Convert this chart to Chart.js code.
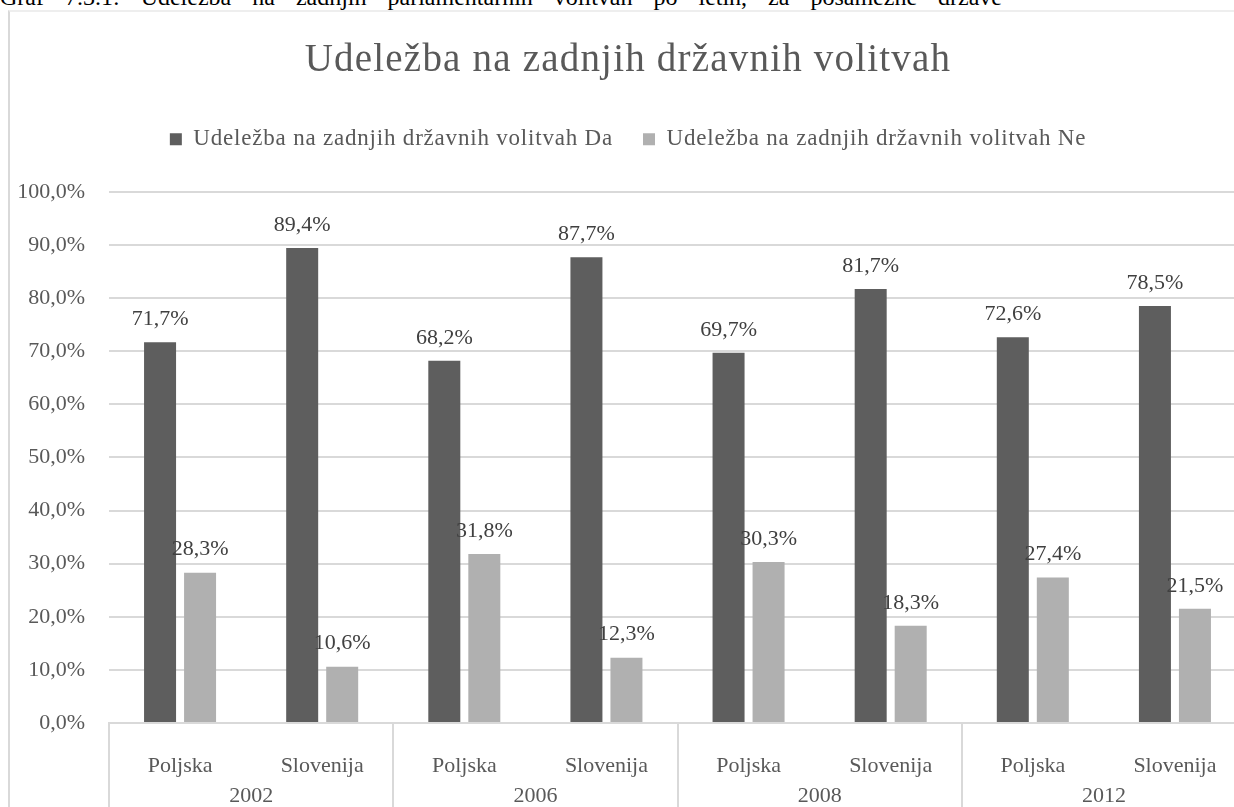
<!DOCTYPE html>
<html>
<head>
<meta charset="utf-8">
<script src="https://cdn.jsdelivr.net/npm/chart.js@4"></script>
<style>
    body { margin: 0; overflow: hidden; background: #ffffff; width: 1234px; height: 807px; position: relative; }
    #caption {
        position: absolute; left: 0; top: -16px; white-space: nowrap;
        font-family: "Liberation Serif", serif; font-size: 24px; color: #000000; word-spacing: 15px;
    }
    #box {
        position: absolute; left: 8px; top: 10px; width: 1262px; height: 800px;
        border-left: 2px solid #d9d9d9; border-top: 2px solid #eeeeee;
    }
</style>
</head>
<body>
<div id="caption">Graf 7.3.1: Udeležba na zadnjih parlamentarnih volitvah po letih, za posamezne države</div>
<div id="box"><canvas id="chart"></canvas></div>
<script>
const countries = ["Poljska", "Slovenija", "Poljska", "Slovenija", "Poljska", "Slovenija", "Poljska", "Slovenija"]
const years = ["2002", "2006", "2008", "2012"]
const turnout_yes = [71.7, 89.4, 68.2, 87.7, 69.7, 81.7, 72.6, 78.5]
const turnout_no = [28.3, 10.6, 31.8, 12.3, 30.3, 18.3, 27.4, 21.5]
const y_ticks = [0, 10, 20, 30, 40, 50, 60, 70, 80, 90, 100]

const font_family = "'Liberation Serif', 'Times New Roman', serif"
const text_color = "#595959"
const line_color = "#d9d9d9"

const format_pct = v => v.toFixed(1).replace(".", ",") + "%"

// Run fn with some letter spacing on the canvas (the original text is set wide)
function with_spacing(ctx, spacing, fn)
{
    const old = ctx.letterSpacing
    ctx.letterSpacing = spacing
    fn()
    ctx.letterSpacing = old === undefined ? "0px" : old
}

// Push the plot area down below the legend, and space out title + legend text
const legend_margin = {
    id: "legend_margin",
    beforeInit(chart)
    {
        const legend = chart.legend
        const fit = legend.fit
        legend.fit = function ()
        {
            with_spacing(chart.ctx, "0.8px", () => fit.bind(legend)())
            this.height += 31
        }
        const draw = legend.draw
        legend.draw = function ()
        {
            with_spacing(chart.ctx, "0.8px", () => draw.bind(legend)())
        }
        const title = chart.titleBlock
        const title_draw = title.draw
        title.draw = function ()
        {
            with_spacing(chart.ctx, "1.2px", () => title_draw.bind(title)())
        }
    }
}

// Value labels above every bar
const bar_labels = {
    id: "bar_labels",
    afterDatasetsDraw(chart)
    {
        const ctx = chart.ctx
        ctx.save()
        ctx.font = "22px " + font_family
        ctx.fillStyle = "#404040"
        ctx.textAlign = "center"
        ctx.textBaseline = "bottom"
        chart.data.datasets.forEach((dataset, i) => {
            chart.getDatasetMeta(i).data.forEach((bar, j) => {
                ctx.fillText(format_pct(dataset.data[j]), bar.x, bar.y - 12)
            })
        })
        ctx.restore()
    }
}

// Table-like dividers between the year groups under the axis
const group_dividers = {
    id: "group_dividers",
    afterDraw(chart)
    {
        const ctx = chart.ctx
        const x_scale = chart.scales.x
        const area = chart.chartArea
        const group_width = (x_scale.right - x_scale.left) / years.length
        ctx.save()
        ctx.strokeStyle = line_color
        ctx.lineWidth = 2
        for (let i = 0; i <= years.length; ++i)
        {
            const x = Math.round(x_scale.left + i * group_width)
            ctx.beginPath()
            ctx.moveTo(x, area.bottom)
            ctx.lineTo(x, chart.height)
            ctx.stroke()
        }
        ctx.restore()
    }
}

new Chart(document.getElementById("chart").getContext("2d"), {
    type: "bar",
    data: {
        labels: countries,
        datasets: [
            {
                label: "Udeležba na zadnjih državnih volitvah Da",
                data: turnout_yes,
                backgroundColor: "#5e5e5e",
                xAxisID: "x",
            },
            {
                label: "Udeležba na zadnjih državnih volitvah Ne",
                data: turnout_no,
                backgroundColor: "#b0b0b0",
                xAxisID: "x",
            },
        ]
    },
    options: {
        responsive: true,
        maintainAspectRatio: false,
        animation: false,
        barPercentage: 0.8,
        categoryPercentage: 0.563,
        layout: {
            padding: { left: 0, right: 26, top: 0, bottom: 0 }
        },
        plugins: {
            title: {
                display: true,
                text: "Udeležba na zadnjih državnih volitvah",
                color: text_color,
                font: { family: font_family, size: 39, weight: "normal" },
                padding: { top: 25, bottom: 14 },
            },
            legend: {
                position: "top",
                labels: {
                    color: text_color,
                    font: { family: font_family, size: 23 },
                    boxWidth: 12,
                    boxHeight: 12,
                    padding: 30,
                }
            },
            tooltip: { enabled: false },
        },
        scales: {
            x: {
                type: "category",
                position: "bottom",
                grid: { display: false, drawTicks: false },
                border: { display: true, color: line_color, width: 2 },
                afterFit(scale) { scale.height = 60 },
                ticks: {
                    color: text_color,
                    font: { family: font_family, size: 22 },
                    padding: 30,
                },
            },
            x_years: {
                type: "category",
                position: "bottom",
                labels: years,
                grid: { display: false, drawTicks: false },
                border: { display: false },
                afterFit(scale) { scale.height = 29 },
                ticks: {
                    color: text_color,
                    font: { family: font_family, size: 22 },
                    padding: 0,
                },
            },
            y: {
                min: 0,
                max: 100,
                afterFit(scale) { scale.width = 99 },
                afterBuildTicks(scale) { scale.ticks = y_ticks.map(v => ({ value: v })) },
                grid: { color: line_color, lineWidth: 2, drawTicks: false },
                border: { display: false },
                ticks: {
                    color: text_color,
                    font: { family: font_family, size: 22 },
                    padding: 24,
                    callback: v => format_pct(v),
                },
            },
        }
    },
    plugins: [legend_margin, bar_labels, group_dividers]
})
</script>
</body>
</html>
